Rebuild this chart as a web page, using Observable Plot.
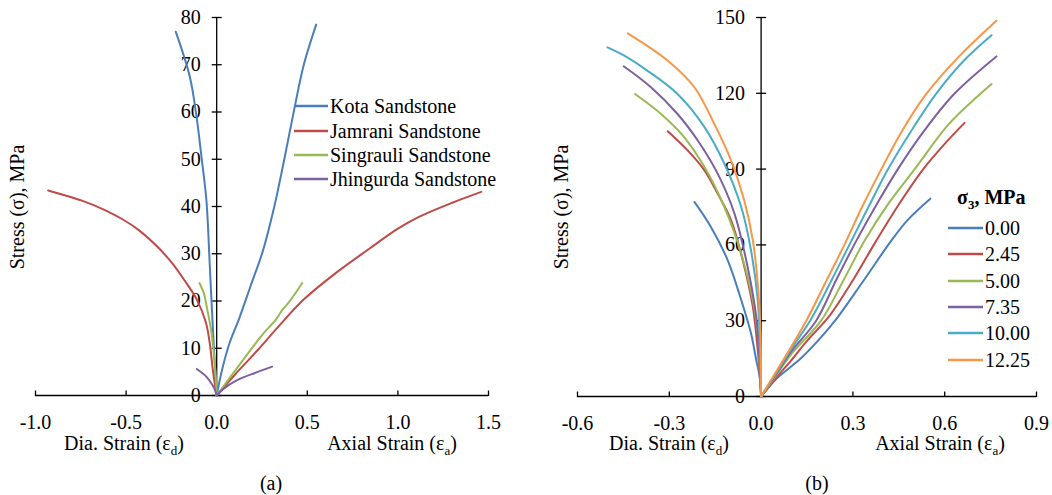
<!DOCTYPE html>
<html><head><meta charset="utf-8">
<script src="https://cdn.jsdelivr.net/npm/d3@7"></script>
<script src="https://cdn.jsdelivr.net/npm/@observablehq/plot@0.6"></script>
<style>
body{margin:0;background:#fff;}
#wrap{position:relative;width:1052px;height:495px;background:#fff;}
#wrap svg{position:absolute;top:0;}
</style></head><body><div id="wrap"></div>
<script>
// ---------- Panel (a) data ----------
const seriesA = ["Kota Sandstone","Jamrani Sandstone","Singrauli Sandstone","Jhingurda Sandstone"];
const colorsA = ["#4A7EBB","#BE4B48","#98B954","#7D60A0"];
const xTicksA = [-1.0,-0.5,0.0,0.5,1.0,1.5];
const yTicksA = [0,10,20,30,40,50,60,70,80];
const kotaDia = [[0,0],[-0.02,13.3],[-0.038,27.4],[-0.057,41.4],[-0.084,50.5],[-0.111,58.9],[-0.148,67.4],[-0.226,77]];
const kotaAxial = [[0,0],[0.03,5.5],[0.07,11],[0.126,16.5],[0.19,23.5],[0.254,30.5],[0.318,40],[0.372,49.8],[0.427,60.4],[0.482,70.2],[0.549,78.5]];
const jamraniDia = [[0,0],[-0.02,5],[-0.038,11],[-0.06,15.5],[-0.111,20.4],[-0.18,24.5],[-0.248,28.1],[-0.32,31.2],[-0.43,35],[-0.52,37.3],[-0.62,39.3],[-0.74,41.2],[-0.93,43.4]];
const jamraniAxial = [[0,0],[0.1,4.4],[0.233,9.9],[0.35,15],[0.48,20.3],[0.66,26],[0.84,31],[1.0,35.3],[1.116,37.8],[1.3,40.8],[1.46,43.1]];
const singrauliDia = [[0,0],[-0.009,6],[-0.028,13.1],[-0.055,18.8],[-0.07,21.5],[-0.095,23.8]];
const singrauliAxial = [[0,0],[0.11,5.7],[0.2,10.3],[0.257,13.1],[0.33,16.2],[0.36,18],[0.4,19.8],[0.472,23.8]];
const jhingurdaDia = [[0,0],[-0.01,1.2],[-0.022,2.1],[-0.055,3.9],[-0.11,5.6]];
const jhingurdaAxial = [[0,0],[0.037,1.4],[0.11,3.2],[0.22,4.9],[0.306,6.1]];

// ---------- Panel (b) data ----------
const sigma3 = ["0.00","2.45","5.00","7.35","10.00","12.25"];
const colorsB = ["#4A7EBB","#BE4B48","#98B954","#7D60A0","#4BACC6","#F79646"];
const xTicksB = [-0.6,-0.3,0.0,0.3,0.6,0.9];
const yTicksB = [0,30,60,90,120,150];
const dia000 = [[0,0],[-0.005,8],[-0.016,14.5],[-0.033,25],[-0.065,38.2],[-0.109,53.9],[-0.164,67.1],[-0.218,77]];
const axial000 = [[0,0],[0.05,7],[0.131,15.2],[0.2,24],[0.245,30.5],[0.33,45],[0.425,61.6],[0.48,70],[0.553,78.3]];
const dia245 = [[0,0],[-0.004,8],[-0.011,18.4],[-0.027,35.5],[-0.06,53.9],[-0.098,69.7],[-0.142,80.3],[-0.185,89.5],[-0.24,97.4],[-0.305,105]];
const axial245 = [[0,0],[0.05,7.5],[0.1,14.5],[0.15,22],[0.224,32],[0.3,46],[0.376,61.6],[0.45,76],[0.53,90],[0.6,100],[0.665,108.3]];
const dia500 = [[0,0],[-0.004,10],[-0.011,25],[-0.027,38.2],[-0.065,56.6],[-0.12,75],[-0.185,90.8],[-0.251,102.6],[-0.327,111.8],[-0.412,119.7]];
const axial500 = [[0,0],[0.05,8.5],[0.1,17],[0.196,30],[0.265,45],[0.338,61.6],[0.42,77],[0.502,90],[0.611,107.5],[0.7,118],[0.753,123.7]];
const dia735 = [[0,0],[-0.004,12],[-0.016,31.6],[-0.044,51.3],[-0.087,72.4],[-0.142,88.2],[-0.207,101.3],[-0.273,111.8],[-0.36,122.4],[-0.449,130.7]];
const axial735 = [[0,0],[0.05,9],[0.1,18],[0.18,30],[0.245,46],[0.311,61.6],[0.38,76.5],[0.447,90],[0.535,105.5],[0.633,120],[0.769,134.6]];
const dia1000 = [[0,0],[-0.003,15],[-0.011,38.2],[-0.033,57.9],[-0.065,75],[-0.12,92.1],[-0.185,106.6],[-0.273,119.7],[-0.371,128.9],[-0.447,134.9],[-0.502,138.2]];
const axial1000 = [[0,0],[0.05,9.5],[0.1,19],[0.165,31],[0.23,46],[0.295,61.6],[0.355,76],[0.415,90],[0.49,105],[0.573,120],[0.663,133],[0.753,143]];
const dia1225 = [[0,0],[-0.002,25],[-0.011,44.7],[-0.027,61.8],[-0.055,77.6],[-0.098,93.4],[-0.153,107.9],[-0.218,122.4],[-0.305,132.9],[-0.436,143.7]];
const axial1225 = [[0,0],[0.05,10],[0.1,20],[0.15,30.5],[0.21,45],[0.272,60],[0.33,75],[0.393,90],[0.46,105],[0.535,119],[0.644,134.2],[0.769,148.7]];

// ---------- build tables ----------
function rows(series, pairs, branch) { return pairs.map(([x, y]) => ({series, branch, x, y})); }
const dataA = [
  ...rows(seriesA[0], kotaDia, "d"), ...rows(seriesA[0], kotaAxial, "a"),
  ...rows(seriesA[1], jamraniDia, "d"), ...rows(seriesA[1], jamraniAxial, "a"),
  ...rows(seriesA[2], singrauliDia, "d"), ...rows(seriesA[2], singrauliAxial, "a"),
  ...rows(seriesA[3], jhingurdaDia, "d"), ...rows(seriesA[3], jhingurdaAxial, "a")
];
const diaB = [dia000, dia245, dia500, dia735, dia1000, dia1225];
const axialB = [axial000, axial245, axial500, axial735, axial1000, axial1225];
const dataB = sigma3.flatMap((s, i) => [...rows(s, diaB[i], "d"), ...rows(s, axialB[i], "a")]);

const FONT = '"Liberation Serif","Times New Roman",serif';
const FS = 20;

// tick-mark symbols (plain strokes)
const hTick = {draw(ctx) { ctx.moveTo(-5, 0); ctx.lineTo(5, 0); }};
const vTick = {draw(ctx) { ctx.moveTo(0, 0.5); ctx.lineTo(0, -5); }};

function axisMarks(xTicks, yTicks, fmtX) {
  return [
    Plot.ruleY([0], {stroke: "#000", strokeWidth: 1.3}),
    Plot.ruleX([0], {stroke: "#000", strokeWidth: 1.3}),
    Plot.dot(xTicks, {x: d => d, y: 0, symbol: vTick, stroke: "#000", fill: "none", strokeWidth: 1.3}),
    Plot.dot(yTicks, {x: 0, y: d => d, symbol: hTick, stroke: "#000", fill: "none", strokeWidth: 1.3}),
    Plot.text(yTicks, {x: 0, y: d => d, text: d => String(d), textAnchor: "end", dx: -16, fill: "#000"}),
    Plot.text(xTicks, {x: d => d, y: 0, text: fmtX, dy: 27, fill: "#000"})
  ];
}

const plotA = Plot.plot({
  width: 526, height: 495,
  marginLeft: 35, marginRight: 38, marginTop: 17, marginBottom: 100,
  x: {domain: [-1, 1.5], axis: null},
  y: {domain: [0, 80], axis: null},
  color: {domain: seriesA, range: colorsA},
  style: {fontFamily: FONT, fontSize: FS + "px", color: "#000", background: "transparent", overflow: "visible"},
  marks: [
    ...axisMarks(xTicksA, yTicksA, d => d.toFixed(1)),
    Plot.line(dataA, {x: "x", y: "y", z: d => d.series + d.branch, stroke: "series", strokeWidth: 2, curve: "catmull-rom"})
  ]
});

const plotB = Plot.plot({
  width: 526, height: 495,
  marginLeft: 51, marginRight: 16, marginTop: 17, marginBottom: 99,
  x: {domain: [-0.6, 0.9], axis: null},
  y: {domain: [0, 150], axis: null},
  color: {domain: sigma3, range: colorsB},
  style: {fontFamily: FONT, fontSize: FS + "px", color: "#000", background: "transparent", overflow: "visible"},
  marks: [
    ...axisMarks(xTicksB, yTicksB, d => d.toFixed(1)),
    Plot.line(dataB, {x: "x", y: "y", z: d => d.series + d.branch, stroke: "series", strokeWidth: 2, curve: "catmull-rom"})
  ]
});

const wrap = document.getElementById("wrap");
plotA.style.left = "0px";
plotB.style.left = "526px";
wrap.appendChild(plotA);
wrap.appendChild(plotB);

// ---------- decorations (titles, subscripts, legends, captions) ----------
function label(svg, x, y, parts, {anchor = "middle", rotate = 0, weight = "normal"} = {}) {
  const t = d3.select(svg).append("text")
    .attr("text-anchor", anchor)
    .attr("font-family", FONT).attr("font-size", FS).attr("font-weight", weight)
    .attr("fill", "#000")
    .attr("transform", `translate(${x},${y}) rotate(${rotate})`)
    .attr("dy", "0.35em");
  parts.forEach(p => {
    if (typeof p === "string") t.append("tspan").text(p);
    else t.append("tspan").attr("dy", p.dy).attr("font-size", p.size || 13).text(p.text);
  });
  return t;
}

function legend(svg, x0, x1, ys, names, colors) {
  const g = d3.select(svg).append("g");
  names.forEach((n, i) => {
    g.append("line").attr("x1", x0).attr("x2", x1).attr("y1", ys[i]).attr("y2", ys[i])
      .attr("stroke", colors[i]).attr("stroke-width", 2.5);
    g.append("text").attr("x", x1 + 2).attr("y", ys[i]).attr("dy", "0.35em")
      .attr("text-anchor", "start")
      .attr("font-family", FONT).attr("font-size", FS).attr("fill", "#000").text(n);
  });
}

// Panel (a)
label(plotA, 17, 207, ["Stress (σ), MPa"], {rotate: -90});
label(plotA, 124, 443, ["Dia. Strain (ε", {text: "d", dy: 5, size: 13}, {text: ")", dy: -5, size: FS}]);
label(plotA, 392, 443, ["Axial Strain (ε", {text: "a", dy: 5, size: 13}, {text: ")", dy: -5, size: FS}]);
label(plotA, 271, 483, ["(a)"]);
legend(plotA, 294, 328, [106, 131, 155, 179], seriesA, colorsA);

// Panel (b)
label(plotB, 35, 207, ["Stress (σ), MPa"], {rotate: -90});
label(plotB, 143, 443, ["Dia. Strain (ε", {text: "d", dy: 5, size: 13}, {text: ")", dy: -5, size: FS}]);
label(plotB, 414, 443, ["Axial Strain (ε", {text: "a", dy: 5, size: 13}, {text: ")", dy: -5, size: FS}]);
label(plotB, 291, 483, ["(b)"]);
label(plotB, 431, 197, ["σ", {text: "3", dy: 5, size: 13}, {text: ", MPa", dy: -5, size: FS}], {anchor: "start", weight: "bold"});
legend(plotB, 422, 457, [228, 254, 281, 307, 333, 360], sigma3, colorsB);
</script></body></html>
